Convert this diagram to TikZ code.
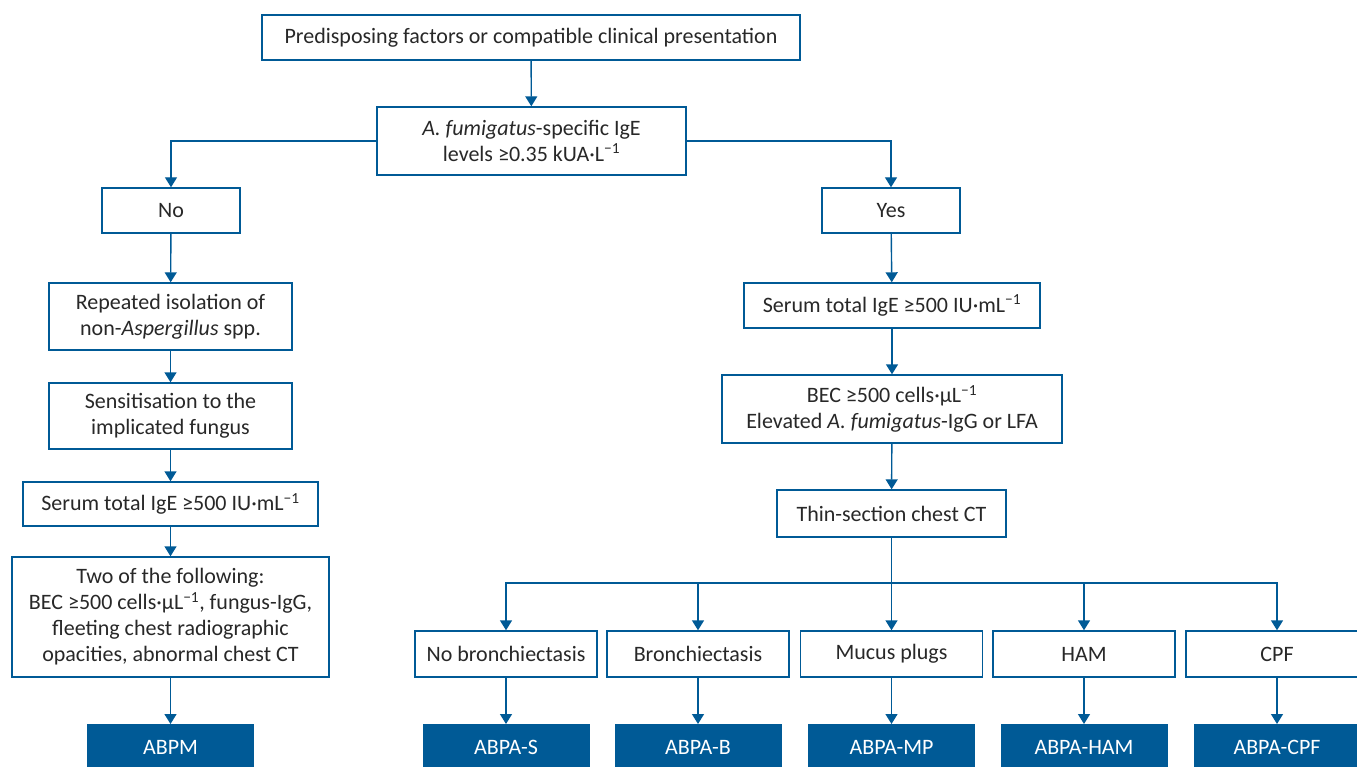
\documentclass[tikz,border=0pt]{standalone}
\usepackage{fontspec}
\setmainfont{Carlito}
\usetikzlibrary{arrows.meta}
\definecolor{ersblue}{RGB}{0,90,150}
\definecolor{txt}{RGB}{40,40,40}
\begin{document}
\begin{tikzpicture}[x=1pt,y=-1pt,
  box/.style={draw=ersblue,line width=1.4pt,fill=white,text=txt,align=center,inner sep=0pt,
    font=\fontsize{22}{26}\selectfont},
  res/.style={fill=ersblue,text=white,align=center,inner sep=0pt,minimum width=167pt,minimum height=46pt,
    font=\fontsize{22}{26}\selectfont},
  conn/.style={draw=ersblue,line width=1.4pt},
  arr/.style={conn,-{Triangle[length=10pt,width=12pt]}}]
\useasboundingbox (0,0) rectangle (1357,767);
\clip (0,0) rectangle (1357,767);
% top
\node[box,minimum width=538pt,minimum height=45pt] (top) at (531,37.5) {Predisposing factors or compatible clinical presentation};
\node[box,minimum width=309pt,minimum height=68pt] (af) at (531.5,141) {\textit{A. fumigatus}-specific IgE\\levels ≥0.35 kUA·L\textsuperscript{−1}};
% left branch
\node[box,minimum width=138pt,minimum height=45pt] (no) at (171,210.5) {No};
\node[box,minimum width=243pt,minimum height=67pt] (rep) at (170.5,316.5) {Repeated isolation of\\non-\textit{Aspergillus} spp.};
\node[box,minimum width=243pt,minimum height=66pt] (sens) at (170.5,416) {Sensitisation to the\\implicated fungus};
\node[box,minimum width=295pt,minimum height=44pt] (serl) at (170.5,504) {Serum total IgE ≥500 IU·mL\textsuperscript{−1}};
\node[box,minimum width=317pt,minimum height=120pt] (two) at (170.5,617) {Two of the following:\\BEC ≥500 cells·µL\textsuperscript{−1}, fungus-IgG,\\fleeting chest radiographic\\opacities, abnormal chest CT};
\node[res,anchor=north] (abpm) at (170.5,724) {ABPM};
% right branch
\node[box,minimum width=138pt,minimum height=45pt] (yes) at (891,210.5) {Yes};
\node[box,minimum width=296pt,minimum height=45pt] (serr) at (892,305.5) {Serum total IgE ≥500 IU·mL\textsuperscript{−1}};
\node[box,minimum width=340pt,minimum height=68pt] (bec) at (892,409) {BEC ≥500 cells·µL\textsuperscript{−1}\\Elevated \textit{A. fumigatus}-IgG or LFA};
\node[box,minimum width=229pt,minimum height=47pt] (thin) at (891.5,513.5) {Thin-section chest CT};
\coordinate (bus) at (891.5,583);
\node[box,minimum width=182pt,minimum height=46pt] (nb) at (506,654) {No bronchiectasis};
\node[box,minimum width=182pt,minimum height=46pt] (br) at (698,654) {Bronchiectasis};
\node[box,minimum width=182pt,minimum height=46pt] (mp) at (891.5,654) {Mucus plugs};
\node[box,minimum width=182pt,minimum height=46pt] (hm) at (1084,654) {HAM};
\node[box,minimum width=182pt,minimum height=46pt] (cp) at (1277,654) {CPF};
\node[res,anchor=north] (rs) at (506,724) {ABPA-S};
\node[res,anchor=north] (rb) at (698,724) {ABPA-B};
\node[res,anchor=north] (rmp) at (891.5,724) {ABPA-MP};
\node[res,anchor=north] (rh) at (1084,724) {ABPA-HAM};
\node[res,anchor=north] (rc) at (1277,724) {ABPA-CPF};
% connectors
\draw[arr] (top) -- (af);
\draw[arr] (af.west) -| (no);
\draw[arr] (af.east) -| (yes);
\draw[arr] (no) -- (rep);
\draw[arr] (rep) -- (sens);
\draw[arr] (sens) -- (serl);
\draw[arr] (serl) -- (two);
\draw[arr] (two) -- (abpm);
\draw[arr] (yes) -- (serr);
\draw[arr] (serr) -- (bec);
\draw[arr] (bec) -- (thin);
\draw[arr] (thin) -- (mp);
\draw[conn] (nb.north |- bus) -- (cp.north |- bus);
\foreach \n in {nb,br,hm,cp} \draw[arr] (bus) -| (\n);
\draw[arr] (nb) -- (rs);
\draw[arr] (br) -- (rb);
\draw[arr] (mp) -- (rmp);
\draw[arr] (hm) -- (rh);
\draw[arr] (cp) -- (rc);
\end{tikzpicture}
\end{document}
